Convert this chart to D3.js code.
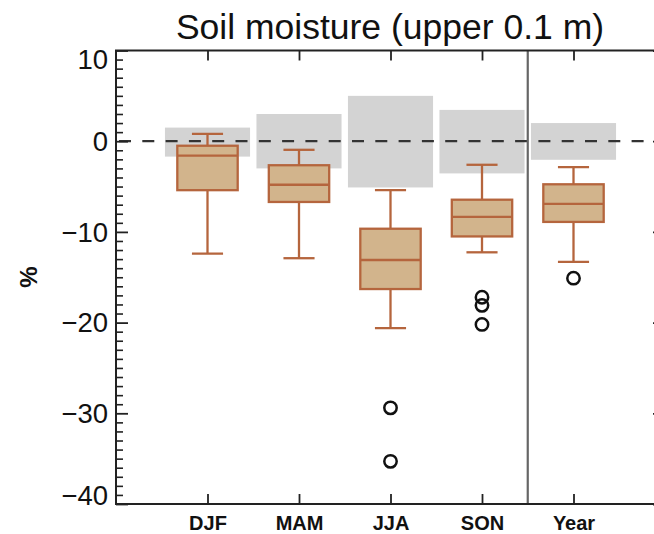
<!DOCTYPE html>
<html>
<head>
<meta charset="utf-8">
<script src="https://cdn.jsdelivr.net/npm/d3@7"></script>
<style>
  html, body { margin: 0; padding: 0; background: #fff; }
  svg { display: block; font-family: "Liberation Sans", Arial, sans-serif; }
</style>
</head>
<body>
<svg id="chart" width="654" height="534"></svg>
<script>
// Seasons plus annual mean
const categories = ["DJF", "MAM", "JJA", "SON", "Year"];
// Box-plot statistics (%): upper whisker, upper quartile, median, lower quartile, lower whisker
const whiskerHigh = [0.8, -0.95, -5.4, -2.6, -2.85];
const quartileHigh = [-0.5, -2.65, -9.65, -6.45, -4.75];
const medians = [-1.6, -4.8, -13.1, -8.35, -6.9];
const quartileLow = [-5.4, -6.7, -16.3, -10.5, -8.9];
const whiskerLow = [-12.4, -12.9, -20.6, -12.25, -13.3];
// Outliers per category
const outliers = [[], [], [-29.4, -35.3], [-17.2, -18.1, -20.2], [-15.1]];
// Natural-variability range (grey bands)
const bandHigh = [1.5, 3.0, 5.0, 3.45, 2.0];
const bandLow = [-1.7, -3.0, -5.1, -3.55, -2.05];
// Axis ticks
const yTicks = [10, 0, -10, -20, -30, -40];
const yDomain = [-40, 10];

const svg = d3.select("#chart");
const plotL = 116, plotR = 665, plotT = 50.5, plotB = 504;

const x = d3.scalePoint().domain(categories).range([plotL, plotR]).padding(1);
const step = x.step();
const y = d3.scaleLinear().domain(yDomain).range([plotB, plotT]);

const data = categories.map((c, i) => ({
  c, wh: whiskerHigh[i], qh: quartileHigh[i], med: medians[i],
  ql: quartileLow[i], wl: whiskerLow[i], out: outliers[i],
  bh: bandHigh[i], bl: bandLow[i]
}));

// Grey variability bands
const bandW = step * 0.93;
svg.append("g").selectAll("rect").data(data).join("rect")
  .attr("x", d => x(d.c) - bandW / 2)
  .attr("width", bandW)
  .attr("y", d => y(d.bh))
  .attr("height", d => y(d.bl) - y(d.bh))
  .attr("fill", "#d3d3d3");

// Box plots
const boxW = step * 0.66, capW = step * 0.34;
const boxColor = "#b5653d", boxFill = "#d2b48c", sw = 2.3;
const g = svg.append("g").selectAll("g").data(data).join("g");
g.append("line")
  .attr("x1", d => x(d.c)).attr("x2", d => x(d.c))
  .attr("y1", d => y(d.wh)).attr("y2", d => y(d.wl))
  .attr("stroke", boxColor).attr("stroke-width", sw);
g.append("line")
  .attr("x1", d => x(d.c) - capW / 2).attr("x2", d => x(d.c) + capW / 2)
  .attr("y1", d => y(d.wh)).attr("y2", d => y(d.wh))
  .attr("stroke", boxColor).attr("stroke-width", sw);
g.append("line")
  .attr("x1", d => x(d.c) - capW / 2).attr("x2", d => x(d.c) + capW / 2)
  .attr("y1", d => y(d.wl)).attr("y2", d => y(d.wl))
  .attr("stroke", boxColor).attr("stroke-width", sw);
g.append("rect")
  .attr("x", d => x(d.c) - boxW / 2).attr("width", boxW)
  .attr("y", d => y(d.qh)).attr("height", d => y(d.ql) - y(d.qh))
  .attr("fill", boxFill).attr("stroke", boxColor).attr("stroke-width", sw);
g.append("line")
  .attr("x1", d => x(d.c) - boxW / 2).attr("x2", d => x(d.c) + boxW / 2)
  .attr("y1", d => y(d.med)).attr("y2", d => y(d.med))
  .attr("stroke", boxColor).attr("stroke-width", sw);
g.selectAll("circle").data(d => d.out.map(v => ({ c: d.c, v }))).join("circle")
  .attr("cx", d => x(d.c)).attr("cy", d => y(d.v)).attr("r", 6.2)
  .attr("fill", "none").attr("stroke", "#111").attr("stroke-width", 2.5);

// Zero reference line
svg.append("line")
  .attr("x1", plotL).attr("x2", plotR)
  .attr("y1", y(0)).attr("y2", y(0))
  .attr("stroke", "#333").attr("stroke-width", 2.2)
  .attr("stroke-dasharray", "12,11.3")
  .attr("stroke-dashoffset", -3);

// Separator between seasons and annual value
const sepX = (x("SON") + x("Year")) / 2;
svg.append("line")
  .attr("x1", sepX).attr("x2", sepX).attr("y1", plotT).attr("y2", plotB)
  .attr("stroke", "#666").attr("stroke-width", 2.2);

// Frame
svg.append("rect")
  .attr("x", plotL).attr("y", plotT).attr("width", plotR - plotL).attr("height", plotB - plotT)
  .attr("fill", "none").attr("stroke", "#222").attr("stroke-width", 2);

// Minor ticks on the y axis
const minor = d3.range(yDomain[0], yDomain[1] + 1).filter(v => !yTicks.includes(v));
svg.append("g")
  .attr("transform", `translate(${plotL},0)`)
  .call(d3.axisLeft(y).tickValues(minor).tickSize(-7).tickFormat(""))
  .call(a => a.select(".domain").remove())
  .call(a => a.selectAll("line").attr("stroke", "#222").attr("stroke-width", 1.6));
svg.append("g")
  .attr("transform", `translate(${plotR},0)`)
  .call(d3.axisRight(y).tickValues(minor).tickSize(-7).tickFormat(""))
  .call(a => a.select(".domain").remove())
  .call(a => a.selectAll("line").attr("stroke", "#222").attr("stroke-width", 1.6));

// Major y ticks with labels
const fmt = v => (v < 0 ? "\u2212" + Math.abs(v) : String(v));
const yAxis = svg.append("g")
  .attr("transform", `translate(${plotL},0)`)
  .call(d3.axisLeft(y).tickValues(yTicks).tickSize(-12).tickPadding(8).tickFormat(fmt));
yAxis.select(".domain").remove();
yAxis.selectAll("line").attr("stroke", "#222").attr("stroke-width", 1.8);
yAxis.selectAll("text")
  .attr("font-size", 27.5).attr("fill", "#111")
  .attr("font-family", "Liberation Sans, Arial, sans-serif")
  .attr("dy", d => d === yDomain[1] ? "0.64em" : d === yDomain[0] ? "0.03em" : "0.34em");

svg.append("g")
  .attr("transform", `translate(${plotR},0)`)
  .call(d3.axisRight(y).tickValues(yTicks).tickSize(-12).tickFormat(""))
  .call(a => a.select(".domain").remove())
  .call(a => a.selectAll("line").attr("stroke", "#222").attr("stroke-width", 1.8));

// Category ticks, bottom and top
const xb = svg.append("g")
  .attr("transform", `translate(0,${plotB})`)
  .call(d3.axisBottom(x).tickSize(-10).tickPadding(10));
xb.select(".domain").remove();
xb.selectAll("line").attr("stroke", "#222").attr("stroke-width", 1.8);
xb.selectAll("text")
  .attr("font-size", 20).attr("font-weight", "bold").attr("fill", "#111")
  .attr("font-family", "Liberation Sans, Arial, sans-serif")
  .attr("y", 26).attr("dy", 0);

svg.append("g")
  .attr("transform", `translate(0,${plotT})`)
  .call(d3.axisTop(x).tickSize(-10).tickFormat(""))
  .call(a => a.select(".domain").remove())
  .call(a => a.selectAll("line").attr("stroke", "#222").attr("stroke-width", 1.8));

// Y-axis label
svg.append("text")
  .attr("transform", `translate(37,277) rotate(-90)`)
  .attr("text-anchor", "middle")
  .attr("font-size", 24).attr("font-weight", "bold").attr("fill", "#111")
  .text("%");

// Title
svg.append("text")
  .attr("x", 390).attr("y", 39)
  .attr("text-anchor", "middle")
  .attr("font-size", 35.5).attr("fill", "#111")
  .text("Soil moisture (upper 0.1 m)");
</script>
</body>
</html>
